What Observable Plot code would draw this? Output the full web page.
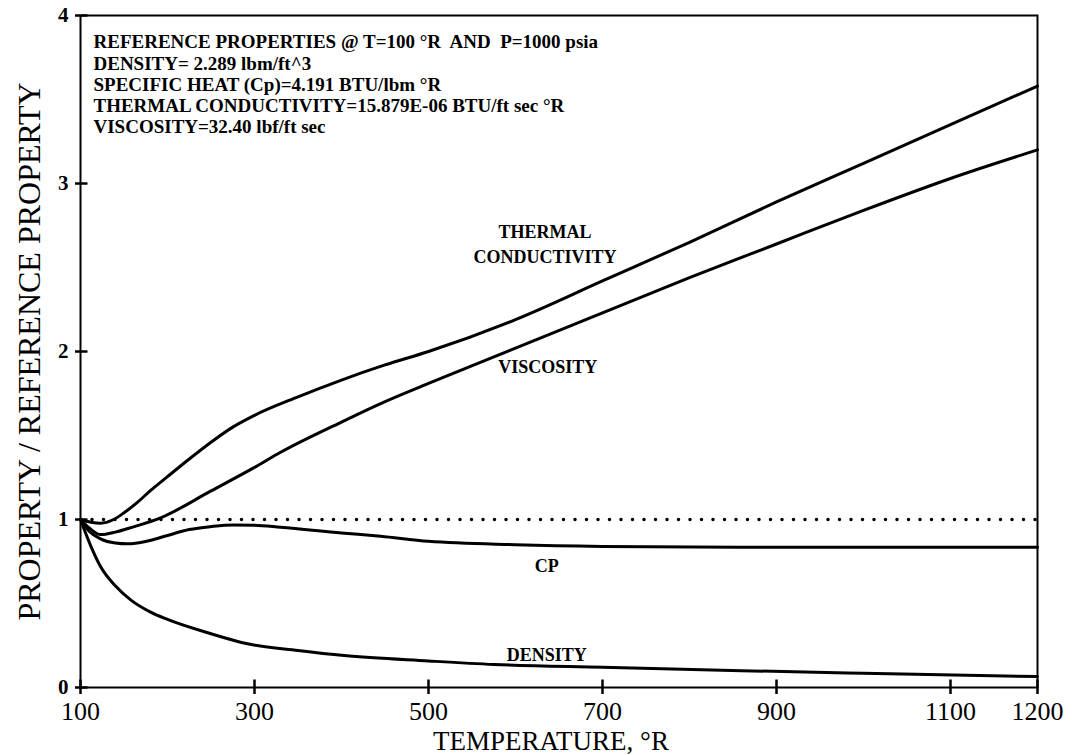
<!DOCTYPE html>
<html>
<head>
<meta charset="utf-8">
<script src="https://cdn.jsdelivr.net/npm/d3@7"></script>
<script src="https://cdn.jsdelivr.net/npm/@observablehq/plot@0.6"></script>
<style>
  body { margin: 0; background: #fff; }
  #chart svg { display: block; }
</style>
</head>
<body>
<div id="chart"></div>
<script>
// ---- data ----
const xTicks = [100, 300, 500, 700, 900, 1100, 1200];
const yTicks = [0, 1, 2, 3, 4];

const thermalT = [100, 112, 123, 138, 150, 165, 180, 200, 225, 250, 275, 300, 350, 400, 450, 500, 600, 700, 800, 900, 1000, 1100, 1200];
const thermalV = [1.0, 0.984, 0.978, 1.0, 1.04, 1.10, 1.17, 1.255, 1.36, 1.46, 1.55, 1.62, 1.73, 1.83, 1.92, 2.0, 2.19, 2.42, 2.65, 2.89, 3.12, 3.35, 3.58];

const viscT = [100, 110, 123, 140, 160, 192, 250, 300, 330, 400, 445, 500, 600, 700, 800, 900, 1000, 1100, 1200];
const viscV = [1.0, 0.95, 0.91, 0.925, 0.955, 1.01, 1.17, 1.31, 1.40, 1.58, 1.69, 1.81, 2.02, 2.23, 2.44, 2.64, 2.84, 3.03, 3.20];

const cpT = [100, 110, 123, 140, 154, 177, 200, 225, 250, 275, 300, 330, 400, 445, 500, 600, 700, 860, 1000, 1200];
const cpV = [1.0, 0.93, 0.885, 0.86, 0.855, 0.872, 0.905, 0.94, 0.958, 0.968, 0.966, 0.954, 0.92, 0.90, 0.87, 0.85, 0.84, 0.835, 0.835, 0.835];

const densT = [100, 112, 123, 140, 158, 180, 200, 250, 292, 350, 403, 500, 575, 700, 860, 1000, 1200];
const densV = [1.0, 0.84, 0.72, 0.605, 0.52, 0.45, 0.405, 0.32, 0.26, 0.22, 0.19, 0.158, 0.137, 0.12, 0.10, 0.085, 0.065];

const refT = [100, 1200];
const refV = [1, 1];

const labelText = ["THERMAL", "CONDUCTIVITY", "VISCOSITY", "CP", "DENSITY"];
const labelT = [634, 634, 637, 636, 636];
const labelV = [2.71, 2.56, 1.905, 0.72, 0.19];

const noteLines = [
  "REFERENCE PROPERTIES @ T=100 °R  AND  P=1000 psia",
  "DENSITY= 2.289 lbm/ft^3",
  "SPECIFIC HEAT (Cp)=4.191 BTU/lbm °R",
  "THERMAL CONDUCTIVITY=15.879E-06 BTU/ft sec °R",
  "VISCOSITY=32.40 lbf/ft sec"
];

const xTitle = "TEMPERATURE, °R";
const yTitle = "PROPERTY / REFERENCE PROPERTY";

// ---- build ----
const W = 1072, H = 755, mL = 80, mR = 35, mT = 15, mB = 68;
const xPerPx = (1200 - 100) / (W - mL - mR);
const yPerPx = 4 / (H - mT - mB);

const series = (T, V) => T.map((t, i) => ({t, v: V[i]}));
const labels = labelText.map((s, i) => ({s, t: labelT[i], v: labelV[i]}));

const chart = Plot.plot({
  width: W, height: H,
  marginLeft: mL, marginRight: mR, marginTop: mT, marginBottom: mB,
  x: {domain: [100, 1200]},
  y: {domain: [0, 4]},
  style: {fontFamily: "'Liberation Serif', 'DejaVu Serif', serif", background: "white", color: "black"},
  marks: [
    Plot.frame({stroke: "black", strokeWidth: 2}),
    Plot.axisX({ticks: xTicks, tickSize: 7, tickPadding: 7, stroke: "black", strokeWidth: 2.5, fontSize: 26, label: null, tickFormat: d => String(d)}),
    Plot.axisY({ticks: yTicks, tickSize: 5, tickPadding: 7, stroke: "black", strokeWidth: 2.5, fontSize: 21, fontWeight: "bold", label: null, tickFormat: d => String(d)}),
    Plot.link(xTicks, {x1: d => d, x2: d => d, y1: () => 0, y2: () => 8 * yPerPx, stroke: "black", strokeWidth: 2.5}),
    Plot.link(yTicks, {y1: d => d, y2: d => d, x1: () => 100, x2: () => 100 + 7 * xPerPx, stroke: "black", strokeWidth: 2.5}),
    Plot.line(series(refT, refV), {x: "t", y: "v", stroke: "black", strokeWidth: 3.5, strokeDasharray: "0 11.5", strokeLinecap: "round"}),
    Plot.line(series(thermalT, thermalV), {x: "t", y: "v", stroke: "black", strokeWidth: 3, curve: "monotone-x"}),
    Plot.line(series(viscT, viscV), {x: "t", y: "v", stroke: "black", strokeWidth: 3, curve: "monotone-x"}),
    Plot.line(series(cpT, cpV), {x: "t", y: "v", stroke: "black", strokeWidth: 3, curve: "monotone-x"}),
    Plot.line(series(densT, densV), {x: "t", y: "v", stroke: "black", strokeWidth: 3, curve: "monotone-x"}),
    Plot.text(labels, {x: "t", y: "v", text: "s", fontSize: 18, fontWeight: "bold", fill: "black"}),
    Plot.text([noteLines.join("\n")], {frameAnchor: "top-left", dx: 13, dy: 18, textAnchor: "start", lineAnchor: "top", lineHeight: 1.11, fontSize: 19, fontWeight: "bold", fill: "black"}),
    Plot.text([xTitle], {frameAnchor: "bottom", dx: -8, dy: 54, textAnchor: "middle", lineAnchor: "middle", fontSize: 27, fill: "black"}),
    Plot.text([yTitle], {frameAnchor: "left", dx: -51, rotate: -90, textAnchor: "middle", lineAnchor: "middle", fontSize: 32, fill: "black"})
  ]
});
document.getElementById("chart").appendChild(chart);
</script>
</body>
</html>
